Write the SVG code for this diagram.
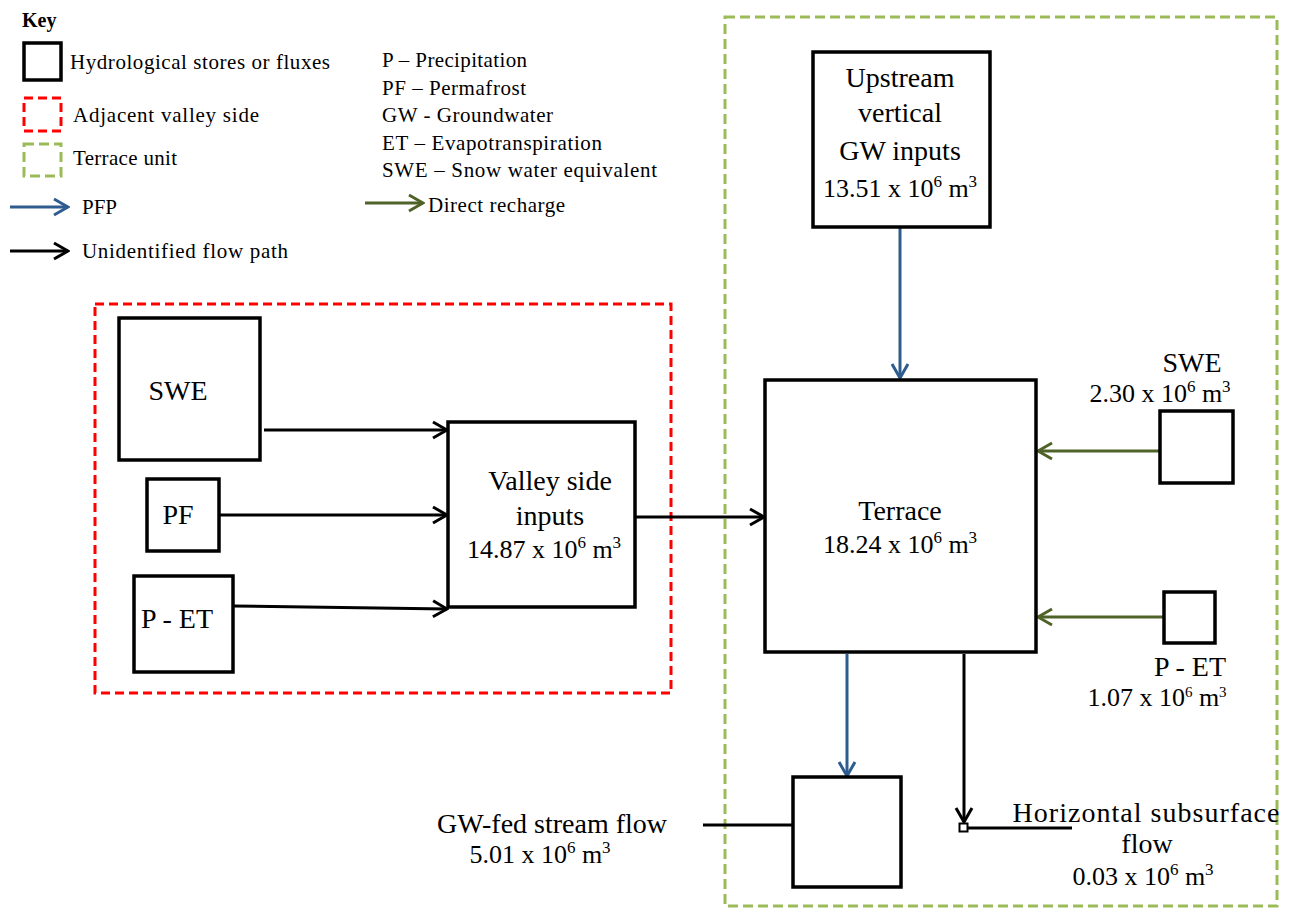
<svg xmlns="http://www.w3.org/2000/svg" width="1295" height="909" viewBox="0 0 1295 909">
<style>
text{font-family:"Liberation Serif","Times New Roman",serif;fill:#000}
.k{font-size:21px}
.t{font-size:28px;text-anchor:middle}
.n{font-size:26px;text-anchor:middle}
.box{fill:#fff;stroke:#000;stroke-width:3.5}
.red{fill:none;stroke:#ff0000;stroke-width:3;stroke-dasharray:9 5}
.grn{fill:none;stroke:#9bbb59;stroke-width:3;stroke-dasharray:10 5}
.cb{stroke:#000;stroke-width:3;fill:none}
.cu{stroke:#2f5c8f;stroke-width:3;fill:none}
.cg{stroke:#4f6228;stroke-width:3;fill:none}
</style>
<defs>
<marker id="ab" viewBox="-16 -10 18 20" refX="0" refY="0" markerWidth="18" markerHeight="20" markerUnits="userSpaceOnUse" orient="auto"><path d="M-14,-8 L0,0 L-14,8" fill="none" stroke="#000" stroke-width="3"/></marker>
<marker id="au" viewBox="-16 -10 18 20" refX="0" refY="0" markerWidth="18" markerHeight="20" markerUnits="userSpaceOnUse" orient="auto"><path d="M-14,-8 L0,0 L-14,8" fill="none" stroke="#2f5c8f" stroke-width="3"/></marker>
<marker id="ag" viewBox="-16 -10 18 20" refX="0" refY="0" markerWidth="18" markerHeight="20" markerUnits="userSpaceOnUse" orient="auto"><path d="M-14,-8 L0,0 L-14,8" fill="none" stroke="#4f6228" stroke-width="3"/></marker>
</defs>

<g id="key">
<text x="22" y="27" font-size="20" font-weight="bold">Key</text>
<rect x="24" y="43" width="37" height="37" class="box"/>
<text class="k" x="70" y="69" textLength="260">Hydrological  stores or fluxes</text>
<rect x="24" y="98" width="37" height="33" class="red"/>
<text class="k" x="73" y="122" textLength="186">Adjacent valley side</text>
<rect x="24" y="144" width="37" height="32" class="grn"/>
<text class="k" x="73" y="165" textLength="104">Terrace unit</text>
<line x1="10" y1="207" x2="68" y2="207" class="cu" marker-end="url(#au)"/>
<text class="k" x="82" y="214">PFP</text>
<line x1="10" y1="251" x2="68" y2="251" class="cb" marker-end="url(#ab)"/>
<text class="k" x="82" y="258" textLength="206">Unidentified flow path</text>
<text class="k" x="382" y="67" textLength="145">P – Precipitation</text>
<text class="k" x="382" y="95" textLength="144">PF – Permafrost</text>
<text class="k" x="382" y="122" textLength="171">GW - Groundwater</text>
<text class="k" x="382" y="150" textLength="220">ET – Evapotranspiration</text>
<text class="k" x="382" y="177" textLength="275">SWE – Snow water equivalent</text>
<line x1="365" y1="203" x2="423" y2="203" class="cg" marker-end="url(#ag)"/>
<text class="k" x="428" y="212" textLength="137">Direct recharge</text>
</g>

<g id="adjacent-valley-side">
<rect x="95" y="304" width="576" height="389" class="red"/>
</g>
<g id="terrace-unit">
<rect x="725" y="17" width="552" height="889" class="grn"/>
</g>

<g id="connectors">
<line x1="264" y1="430" x2="447" y2="430" class="cb" marker-end="url(#ab)"/>
<line x1="219" y1="515" x2="447" y2="515" class="cb" marker-end="url(#ab)"/>
<line x1="233" y1="606" x2="447" y2="609" class="cb" marker-end="url(#ab)"/>
<line x1="635" y1="517" x2="764" y2="517" class="cb" marker-end="url(#ab)"/>
<line x1="900" y1="228" x2="900" y2="378" class="cu" marker-end="url(#au)"/>
<line x1="1160" y1="451" x2="1038" y2="451" class="cg" marker-end="url(#ag)"/>
<line x1="1164" y1="617" x2="1038" y2="617" class="cg" marker-end="url(#ag)"/>
<line x1="847" y1="654" x2="847" y2="776" class="cu" marker-end="url(#au)"/>
<line x1="964" y1="654" x2="964" y2="822" class="cb" marker-end="url(#ab)"/>
<line x1="967" y1="828" x2="1072" y2="828" class="cb"/>
<rect x="959.5" y="823.5" width="8" height="8" fill="#fff" stroke="#000" stroke-width="2"/>
<line x1="703" y1="825" x2="793" y2="825" class="cb"/>
</g>

<g id="swe-left">
<rect x="119" y="318" width="141" height="142" class="box"/>
<text class="t" x="178" y="400">SWE</text>
</g>
<g id="pf">
<rect x="147" y="479" width="72" height="72" class="box"/>
<text class="t" x="178" y="524">PF</text>
</g>
<g id="p-et-left">
<rect x="134" y="576" width="99" height="96" class="box"/>
<text class="t" x="177" y="628">P - ET</text>
</g>
<g id="valley-side-inputs">
<rect x="448" y="422" width="187" height="185" class="box"/>
<text class="t" x="550" y="490">Valley side</text>
<text class="t" x="550" y="525">inputs</text>
<text class="n" x="544" y="558">14.87 x 10<tspan dy="-10" font-size="17">6</tspan><tspan dy="10"> m</tspan><tspan dy="-10" font-size="17">3</tspan></text>
</g>
<g id="upstream">
<rect x="813" y="52" width="177" height="175" class="box"/>
<text class="t" x="900" y="87">Upstream</text>
<text class="t" x="900" y="122">vertical</text>
<text class="t" x="900" y="160">GW inputs</text>
<text class="n" x="900" y="197">13.51 x 10<tspan dy="-10" font-size="17">6</tspan><tspan dy="10"> m</tspan><tspan dy="-10" font-size="17">3</tspan></text>
</g>
<g id="terrace">
<rect x="765" y="380" width="271" height="272" class="box"/>
<text class="t" x="900" y="520">Terrace</text>
<text class="n" x="900" y="553">18.24 x 10<tspan dy="-10" font-size="17">6</tspan><tspan dy="10"> m</tspan><tspan dy="-10" font-size="17">3</tspan></text>
</g>
<g id="swe-right">
<rect x="1160" y="411" width="73" height="72" class="box"/>
<text class="t" x="1192" y="372">SWE</text>
<text class="n" x="1160" y="402">2.30 x 10<tspan dy="-10" font-size="17">6</tspan><tspan dy="10"> m</tspan><tspan dy="-10" font-size="17">3</tspan></text>
</g>
<g id="p-et-right">
<rect x="1164" y="592" width="51" height="51" class="box"/>
<text class="t" x="1190" y="676">P - ET</text>
<text class="n" x="1157" y="706">1.07 x 10<tspan dy="-9" font-size="15">6</tspan><tspan dy="9"> m</tspan><tspan dy="-9" font-size="15">3</tspan></text>
</g>
<g id="gw-fed-stream-flow">
<rect x="793" y="777" width="108" height="110" class="box"/>
<text class="t" x="552" y="833">GW-fed stream flow</text>
<text class="n" x="540" y="863">5.01 x 10<tspan dy="-10" font-size="17">6</tspan><tspan dy="10"> m</tspan><tspan dy="-10" font-size="17">3</tspan></text>
</g>
<g id="horizontal-subsurface-flow">
<text class="t" x="1146" y="822" textLength="267">Horizontal subsurface</text>
<text class="t" x="1147" y="853">flow</text>
<text class="n" x="1143" y="885">0.03 x 10<tspan dy="-10" font-size="17">6</tspan><tspan dy="10"> m</tspan><tspan dy="-10" font-size="17">3</tspan></text>
</g>
</svg>
